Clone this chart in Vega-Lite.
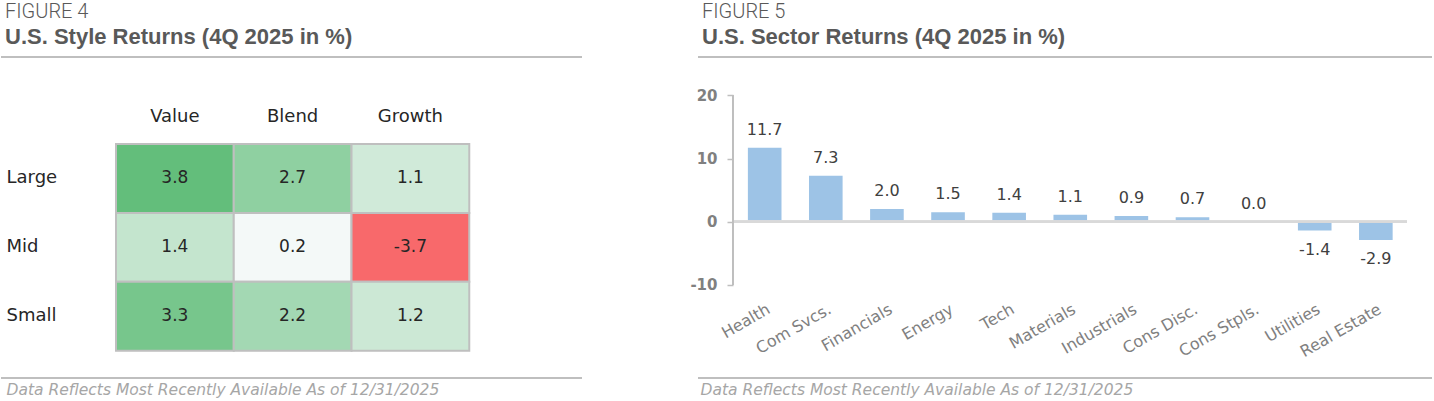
{
  "$schema": "https://vega.github.io/schema/vega-lite/v6.json",
  "padding": {"top": 1, "left": 0, "right": 0, "bottom": 0},
  "background": "white",
  "spacing": 105,
  "config": {
    "font": "DejaVu Sans",
    "locale": {"number": {"decimal": ".", "thousands": ",", "grouping": [3], "currency": ["$", ""], "minus": "-"}},
    "axis": {"grid": false},
    "title": {
      "anchor": "start",
      "frame": "group",
      "font": "Roboto",
      "fontSize": 20,
      "fontWeight": 300,
      "color": "#595959",
      "subtitleFont": "Liberation Sans",
      "subtitleFontSize": 22,
      "subtitleFontWeight": "bold",
      "subtitleColor": "#595959",
      "subtitlePadding": 5,
      "offset": 9,
      "dx": 4
    }
  },
  "hconcat": [
    {
      "width": 581,
      "height": 321,
      "view": {"stroke": "#bfbfbf", "strokeWidth": 2, "strokeDash": [581, 321], "fill": null},
      "title": {"text": "FIGURE 4", "subtitle": "U.S. Style Returns (4Q 2025 in %)"},
      "data": {
        "values": [
          {"size": "Large", "style": "Value", "value": 3.8},
          {"size": "Large", "style": "Blend", "value": 2.7},
          {"size": "Large", "style": "Growth", "value": 1.1},
          {"size": "Mid", "style": "Value", "value": 1.4},
          {"size": "Mid", "style": "Blend", "value": 0.2},
          {"size": "Mid", "style": "Growth", "value": -3.7},
          {"size": "Small", "style": "Value", "value": 3.3},
          {"size": "Small", "style": "Blend", "value": 2.2},
          {"size": "Small", "style": "Growth", "value": 1.2}
        ]
      },
      "encoding": {
        "x": {
          "field": "style",
          "type": "nominal",
          "scale": {"domain": ["Value", "Blend", "Growth"], "paddingInner": 0, "paddingOuter": 0.967, "align": 0.505},
          "axis": {
            "orient": "top",
            "offset": -66,
            "labelPadding": 2,
            "labelBaseline": "alphabetic",
            "labelAngle": 0,
            "domain": false,
            "ticks": false,
            "tickSize": 0,
            "title": null,
            "labelFontSize": 18,
            "labelColor": "#262626"
          }
        },
        "y": {
          "field": "size",
          "type": "nominal",
          "scale": {"domain": ["Large", "Mid", "Small"], "paddingInner": 0, "paddingOuter": 0.83, "align": 0.761},
          "axis": {
            "orient": "left",
            "labelAlign": "left",
            "labelPadding": -5,
            "domain": false,
            "ticks": false,
            "tickSize": 0,
            "labelFontSize": 18,
            "labelColor": "#262626",
            "title": "Data Reflects Most Recently Available As of 12/31/2025",
            "titleX": 5,
            "titleY": 337,
            "titleAngle": 0,
            "titleAlign": "left",
            "titleBaseline": "alphabetic",
            "titleFontStyle": "italic",
            "titleFontWeight": "normal",
            "titleFontSize": 15.5,
            "titleColor": "#a6a6a6"
          }
        }
      },
      "layer": [
        {
          "mark": {"type": "rect", "stroke": "#bfbfbf", "strokeWidth": 2},
          "encoding": {
            "color": {
              "field": "value",
              "type": "quantitative",
              "scale": {"type": "linear", "domain": [-3.7, 0, 3.8], "range": ["#F8696B", "#FCFCFF", "#63BE7B"], "interpolate": "rgb"},
              "legend": null
            }
          }
        },
        {
          "mark": {"type": "text", "fontSize": 17, "color": "#262626", "baseline": "middle"},
          "encoding": {"text": {"field": "value", "type": "quantitative", "format": ".1f"}}
        }
      ]
    },
    {
      "width": 734,
      "height": 321,
      "view": {"stroke": "#bfbfbf", "strokeWidth": 2, "strokeDash": [734, 321], "fill": null},
      "title": {"text": "FIGURE 5", "subtitle": "U.S. Sector Returns (4Q 2025 in %)"},
      "data": {
        "values": [
          {"sector": "Health", "value": 11.7},
          {"sector": "Com Svcs.", "value": 7.3},
          {"sector": "Financials", "value": 2.0},
          {"sector": "Energy", "value": 1.5},
          {"sector": "Tech", "value": 1.4},
          {"sector": "Materials", "value": 1.1},
          {"sector": "Industrials", "value": 0.9},
          {"sector": "Cons Disc.", "value": 0.7},
          {"sector": "Cons Stpls.", "value": 0.0},
          {"sector": "Utilities", "value": -1.4},
          {"sector": "Real Estate", "value": -2.9}
        ]
      },
      "layer": [
        {
          "mark": {"type": "bar", "color": "#9DC3E6"},
          "encoding": {
            "x": {
              "field": "sector",
              "type": "nominal",
              "scale": {
                "domain": ["Health", "Com Svcs.", "Financials", "Energy", "Tech", "Materials", "Industrials", "Cons Disc.", "Cons Stpls.", "Utilities", "Real Estate"],
                "paddingInner": 0.45,
                "paddingOuter": 0.73,
                "align": 0.559
              },
              "axis": {
                "orient": "bottom",
                "offset": -92.3,
                "labelAngle": -30,
                "labelAlign": "right",
                "labelBaseline": "top",
                "labelPadding": 15,
                "labelOverlap": false,
                "ticks": false,
                "tickSize": 0,
                "domain": false,
                "title": null,
                "labelFontSize": 16,
                "labelColor": "#808080"
              }
            },
            "y": {
              "field": "value",
              "type": "quantitative",
              "scale": {"domain": [-24.77, 26.1], "nice": false, "zero": false},
              "axis": {
                "orient": "left",
                "offset": -35,
                "values": [-10, 0, 10, 20],
                "domain": false,
                "ticks": true,
                "tickSize": 6,
                "tickColor": "#bfbfbf",
                "tickWidth": 1.5,
                "labelPadding": 10,
                "labelFontSize": 15,
                "labelFontWeight": "bold",
                "labelColor": "#808080",
                "grid": false,
                "title": "Data Reflects Most Recently Available As of 12/31/2025",
                "titleX": -33,
                "titleY": 337,
                "titleAngle": 0,
                "titleAlign": "left",
                "titleBaseline": "alphabetic",
                "titleFontStyle": "italic",
                "titleFontWeight": "normal",
                "titleFontSize": 15.5,
                "titleColor": "#a6a6a6"
              }
            },
            "y2": {"datum": 0}
          }
        },
        {
          "mark": {"type": "rule", "color": "#d9d9d9", "strokeWidth": 2},
          "encoding": {
            "y": {"datum": 0, "type": "quantitative"},
            "x": {"datum": "Health", "type": "nominal", "bandPosition": -0.446},
            "x2": {"datum": "Real Estate", "bandPosition": 1.42}
          }
        },
        {
          "mark": {"type": "rule", "color": "#bfbfbf", "strokeWidth": 1.5},
          "encoding": {
            "x": {"datum": "Health", "type": "nominal", "bandPosition": -0.446},
            "y": {"datum": 20, "type": "quantitative"},
            "y2": {"datum": -10}
          }
        },
        {
          "transform": [{"filter": "datum.value >= 0"}],
          "mark": {"type": "text", "dy": -13, "baseline": "alphabetic", "fontSize": 16, "color": "#404040"},
          "encoding": {
            "x": {"field": "sector", "type": "nominal"},
            "y": {"field": "value", "type": "quantitative"},
            "text": {"field": "value", "type": "quantitative", "format": ".1f"}
          }
        },
        {
          "transform": [{"filter": "datum.value < 0"}],
          "mark": {"type": "text", "dy": 24, "baseline": "alphabetic", "fontSize": 16, "color": "#404040"},
          "encoding": {
            "x": {"field": "sector", "type": "nominal"},
            "y": {"field": "value", "type": "quantitative"},
            "text": {"field": "value", "type": "quantitative", "format": ".1f"}
          }
        }
      ]
    }
  ]
}
